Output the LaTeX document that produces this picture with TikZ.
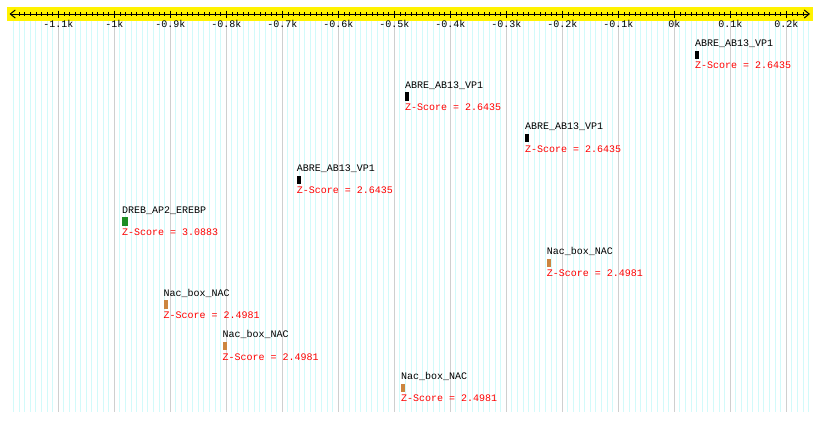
\documentclass[tikz,border=0pt]{standalone}
\usepackage{fontspec}
\setmonofont{Liberation Mono}
\usetikzlibrary{arrows.meta,positioning}
\definecolor{gridcyan}{HTML}{D2FAFA}
\definecolor{gridgray}{HTML}{CFCFCF}
\definecolor{dreb}{HTML}{1E8C23}
\definecolor{nac}{HTML}{CD853F}

\begin{document}
\begin{tikzpicture}[x=1pt, y=-1pt, font=\ttfamily\fontsize{10}{12}\selectfont,
  site/.style={draw=none, inner sep=0pt, minimum width=4pt, minimum height=8.5pt, anchor=north west},
  tf/.style={inner sep=0pt, anchor=base west},
  zs/.style={inner sep=0pt, anchor=base west, text=red}]
\useasboundingbox[fill=white] (0,0) rectangle (820,421);
% grid: every 10 bp, darker every 100 bp
\foreach \p in {-1180,-1170,...,240}
  \draw[gridcyan, line width=1pt] ({674.3+0.56*\p},21) -- ({674.3+0.56*\p},412);
\foreach \p in {-1100,-1000,...,200}
  \draw[gridgray, line width=1pt] ({674.3+0.56*\p},21) -- ({674.3+0.56*\p},412);
% ruler
\fill[yellow] (7,7) rectangle (813,21);
\draw[line width=1pt, {Straight Barb[length=5pt,width=8pt]}-{Straight Barb[length=5pt,width=8pt]}] (9.5,14) -- (810,14);
\foreach \p in {-1170,-1160,...,230}
  \draw[line width=0.8pt] ({674.3+0.56*\p},12) -- ({674.3+0.56*\p},16);
\foreach \p/\t in {-1100/-1.1k,-1000/-1k,-900/-0.9k,-800/-0.8k,-700/-0.7k,-600/-0.6k,-500/-0.5k,
                   -400/-0.4k,-300/-0.3k,-200/-0.2k,-100/-0.1k,0/0k,100/0.1k,200/0.2k}{
  \draw[line width=0.8pt] ({674.3+0.56*\p},10.5) -- ({674.3+0.56*\p},17.5);
  \node[inner sep=0pt, anchor=base] at ({674.3+0.56*\p},27.5) {\t};
}
% binding sites
\node[site, fill=black] (abre1) at (695,50.5) {};
\node[tf, above=3.8pt of abre1.north west, anchor=base west] (abre1l) {ABRE\_AB13\_VP1};
\node[zs, below=9.5pt of abre1.south west, anchor=base west] (abre1z) {Z-Score = 2.6435};

\node[site, fill=black] (abre2) at (405,92.1) {};
\node[tf, above=3.8pt of abre2.north west, anchor=base west] (abre2l) {ABRE\_AB13\_VP1};
\node[zs, below=9.5pt of abre2.south west, anchor=base west] (abre2z) {Z-Score = 2.6435};

\node[site, fill=black] (abre3) at (525,133.7) {};
\node[tf, above=3.8pt of abre3.north west, anchor=base west] (abre3l) {ABRE\_AB13\_VP1};
\node[zs, below=9.5pt of abre3.south west, anchor=base west] (abre3z) {Z-Score = 2.6435};

\node[site, fill=black] (abre4) at (296.7,175.3) {};
\node[tf, above=3.8pt of abre4.north west, anchor=base west] (abre4l) {ABRE\_AB13\_VP1};
\node[zs, below=9.5pt of abre4.south west, anchor=base west] (abre4z) {Z-Score = 2.6435};

\node[site, fill=dreb, minimum width=5.5pt] (dreb1) at (122,216.9) {};
\node[tf, above=3.8pt of dreb1.north west, anchor=base west] (dreb1l) {DREB\_AP2\_EREBP};
\node[zs, below=9.5pt of dreb1.south west, anchor=base west] (dreb1z) {Z-Score = 3.0883};

\node[site, fill=nac] (nac1) at (546.7,258.5) {};
\node[tf, above=3.8pt of nac1.north west, anchor=base west] (nac1l) {Nac\_box\_NAC};
\node[zs, below=9.5pt of nac1.south west, anchor=base west] (nac1z) {Z-Score = 2.4981};

\node[site, fill=nac] (nac2) at (163.5,300.1) {};
\node[tf, above=3.8pt of nac2.north west, anchor=base west] (nac2l) {Nac\_box\_NAC};
\node[zs, below=9.5pt of nac2.south west, anchor=base west] (nac2z) {Z-Score = 2.4981};

\node[site, fill=nac] (nac3) at (222.5,341.7) {};
\node[tf, above=3.8pt of nac3.north west, anchor=base west] (nac3l) {Nac\_box\_NAC};
\node[zs, below=9.5pt of nac3.south west, anchor=base west] (nac3z) {Z-Score = 2.4981};

\node[site, fill=nac] (nac4) at (401,383.3) {};
\node[tf, above=3.8pt of nac4.north west, anchor=base west] (nac4l) {Nac\_box\_NAC};
\node[zs, below=9.5pt of nac4.south west, anchor=base west] (nac4z) {Z-Score = 2.4981};
\end{tikzpicture}
\end{document}
